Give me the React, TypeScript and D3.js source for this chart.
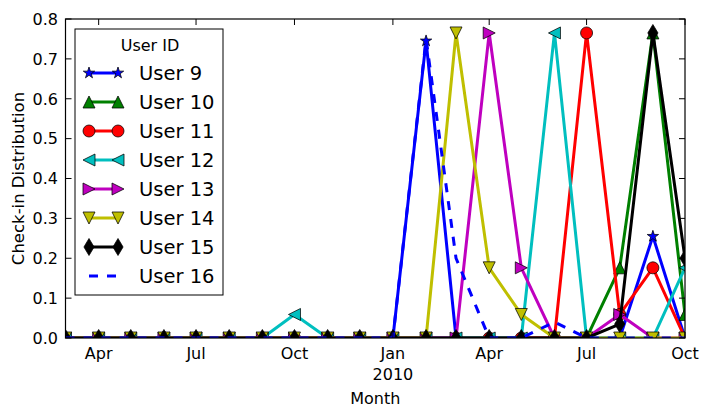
import React from "react";
import * as d3 from "d3";

const months: string[] = [
  "2009-03", "2009-04", "2009-05", "2009-06", "2009-07", "2009-08", "2009-09", "2009-10",
  "2009-11", "2009-12", "2010-01", "2010-02", "2010-03", "2010-04", "2010-05", "2010-06",
  "2010-07", "2010-08", "2010-09", "2010-10",
];

const user9: number[] = [0, 0, 0, 0, 0, 0, 0, 0, 0, 0, 0, 0.745, 0, 0, 0, 0, 0, 0, 0.255, 0];
const user10: number[] = [0, 0, 0, 0, 0, 0, 0, 0, 0, 0, 0, 0, 0, 0, 0, 0, 0, 0.176, 0.765, 0.059];
const user11: number[] = [0, 0, 0, 0, 0, 0, 0, 0, 0, 0, 0, 0, 0, 0, 0, 0, 0.765, 0.059, 0.176, 0];
const user12: number[] = [0, 0, 0, 0, 0, 0, 0, 0.059, 0, 0, 0, 0, 0, 0, 0, 0.765, 0, 0, 0, 0.176];
const user13: number[] = [0, 0, 0, 0, 0, 0, 0, 0, 0, 0, 0, 0, 0, 0.765, 0.176, 0, 0, 0.059, 0, 0];
const user14: number[] = [0, 0, 0, 0, 0, 0, 0, 0, 0, 0, 0, 0, 0.765, 0.176, 0.059, 0, 0, 0, 0, 0];
const user15: number[] = [0, 0, 0, 0, 0, 0, 0, 0, 0, 0, 0, 0, 0, 0, 0, 0, 0, 0.035, 0.765, 0.2];
const user16: number[] = [0, 0, 0, 0, 0, 0, 0, 0, 0, 0, 0, 0.75, 0.2, 0, 0, 0.04, 0, 0, 0, 0];

const seriesNames: string[] = ["User 9", "User 10", "User 11", "User 12", "User 13", "User 14", "User 15", "User 16"];
const seriesValues: number[][] = [user9, user10, user11, user12, user13, user14, user15, user16];
const seriesColors: string[] = ["#0000ff", "#008000", "#ff0000", "#00bfbf", "#bf00bf", "#bfbf00", "#000000", "#0000ff"];
const seriesMarkers: string[] = ["star", "tri-up", "circle", "tri-left", "tri-right", "tri-down", "thin-diamond", "none"];
const seriesDashed: boolean[] = [false, false, false, false, false, false, false, true];

const yTicks: number[] = [0, 0.1, 0.2, 0.3, 0.4, 0.5, 0.6, 0.7, 0.8];
const xTickMonths: string[] = ["2009-04", "2009-07", "2009-10", "2010-01", "2010-04", "2010-07", "2010-10"];
const xTickLabels: string[] = ["Apr", "Jul", "Oct", "Jan", "Apr", "Jul", "Oct"];
const xTickSub: string[] = ["", "", "", "2010", "", "", ""];

const legendTitle = "User ID";
const xTitle = "Month";
const yTitle = "Check-in Distribution";

const W = 708;
const H = 418;
const left = 65.5;
const right = 685;
const top = 19;
const bottom = 338;
const FONT = "DejaVu Sans, sans-serif";

const parse = d3.timeParse("%Y-%m");

function markerPath(kind: string, s: number): string {
  const h = s / 2;
  switch (kind) {
    case "tri-up":
      return `M0,${-h}L${-h},${h}L${h},${h}Z`;
    case "tri-down":
      return `M0,${h}L${-h},${-h}L${h},${-h}Z`;
    case "tri-left":
      return `M${-h},0L${h},${-h}L${h},${h}Z`;
    case "tri-right":
      return `M${h},0L${-h},${-h}L${-h},${h}Z`;
    case "thin-diamond": {
      const hh = (s * Math.SQRT2) / 2;
      const hw = hh * 0.6;
      return `M0,${-hh}L${hw},0L0,${hh}L${-hw},0Z`;
    }
    case "star": {
      const ro = h;
      const ri = h * 0.381966;
      const pts: string[] = [];
      for (let i = 0; i < 10; i++) {
        const r = i % 2 === 0 ? ro : ri;
        const a = (i * Math.PI) / 5 - Math.PI / 2;
        pts.push(`${r * Math.cos(a)},${r * Math.sin(a)}`);
      }
      return "M" + pts.join("L") + "Z";
    }
    default:
      return "";
  }
}

function Marker({ kind, x, y, color }: { kind: string; x: number; y: number; color: string }) {
  if (kind === "none") return null;
  if (kind === "circle") {
    return <circle cx={x} cy={y} r={6} fill={color} stroke="#000" strokeWidth={0.75} />;
  }
  return (
    <path
      d={markerPath(kind, 12)}
      transform={`translate(${x},${y})`}
      fill={color}
      stroke="#000"
      strokeWidth={0.75}
      strokeLinejoin="miter"
    />
  );
}

export default function App() {
  const dates = months.map((m) => parse(m) as Date);
  const x = d3.scaleTime().domain([dates[0], dates[dates.length - 1]]).range([left, right]);
  const y = d3.scaleLinear().domain([0, 0.8]).range([bottom, top]);

  const line = d3
    .line<number>()
    .x((_, i) => x(dates[i]))
    .y((v) => y(v));

  const tickLen = 6;
  const legendX = 75;
  const legendY = 29;
  const legendW = 148;
  const legendH = 266;
  const entryY0 = 73;
  const entryStep = 29;
  const sx0 = 89;
  const sx1 = 118;

  return (
    <svg
      width={W}
      height={H}
      viewBox={`0 0 ${W} ${H}`}
      style={{ position: "absolute", left: 0, top: 0, background: "#fff" }}
    >
      <defs>
        <clipPath id="plotClip">
          <rect x={left} y={top} width={right - left} height={bottom - top} />
        </clipPath>
      </defs>
      <rect x={0} y={0} width={W} height={H} fill="#fff" />

      <g clipPath="url(#plotClip)">
        {seriesValues.map((vals, si) => (
          <g key={seriesNames[si]}>
            <path
              d={line(vals) || ""}
              fill="none"
              stroke={seriesColors[si]}
              strokeWidth={3}
              strokeLinejoin="round"
              strokeDasharray={seriesDashed[si] ? "9,9" : undefined}
            />
            {vals.map((v, i) => (
              <Marker key={i} kind={seriesMarkers[si]} x={x(dates[i])} y={y(v)} color={seriesColors[si]} />
            ))}
          </g>
        ))}
      </g>

      {/* frame */}
      <rect x={left} y={top} width={right - left} height={bottom - top} fill="none" stroke="#000" strokeWidth={1.2} />

      {/* y ticks */}
      {yTicks.map((t) => (
        <g key={"y" + t}>
          <line x1={left} x2={left + tickLen} y1={y(t)} y2={y(t)} stroke="#000" strokeWidth={1} />
          <line x1={right} x2={right - tickLen} y1={y(t)} y2={y(t)} stroke="#000" strokeWidth={1} />
          <text x={58} y={y(t) + 5.8} textAnchor="end" fontFamily={FONT} fontSize={16} fill="#000">
            {t.toFixed(1)}
          </text>
        </g>
      ))}

      {/* x ticks */}
      {xTickMonths.map((m, i) => {
        const xx = x(parse(m) as Date);
        return (
          <g key={"x" + i}>
            <line x1={xx} x2={xx} y1={bottom} y2={bottom - tickLen} stroke="#000" strokeWidth={1} />
            <line x1={xx} x2={xx} y1={top} y2={top + tickLen} stroke="#000" strokeWidth={1} />
            <text x={xx} y={359} textAnchor="middle" fontFamily={FONT} fontSize={16} fill="#000">
              {xTickLabels[i]}
            </text>
            {xTickSub[i] && (
              <text x={xx} y={380} textAnchor="middle" fontFamily={FONT} fontSize={16} fill="#000">
                {xTickSub[i]}
              </text>
            )}
          </g>
        );
      })}

      <text x={(left + right) / 2} y={404} textAnchor="middle" fontFamily={FONT} fontSize={16} fill="#000">
        {xTitle}
      </text>
      <text
        transform={`translate(24,${(top + bottom) / 2}) rotate(-90)`}
        textAnchor="middle"
        fontFamily={FONT}
        fontSize={16.5}
        fill="#000"
      >
        {yTitle}
      </text>

      {/* legend */}
      <rect x={legendX} y={legendY} width={legendW} height={legendH} fill="#fff" stroke="#000" strokeWidth={1} />
      <text x={150} y={51} textAnchor="middle" fontFamily={FONT} fontSize={16} fill="#000">
        {legendTitle}
      </text>
      {seriesNames.map((name, si) => {
        const ly = entryY0 + si * entryStep;
        return (
          <g key={"lg" + name}>
            <line
              x1={sx0}
              x2={sx1}
              y1={ly}
              y2={ly}
              stroke={seriesColors[si]}
              strokeWidth={3}
              strokeDasharray={seriesDashed[si] ? "9,9" : undefined}
            />
            <Marker kind={seriesMarkers[si]} x={sx0} y={ly} color={seriesColors[si]} />
            <Marker kind={seriesMarkers[si]} x={sx1} y={ly} color={seriesColors[si]} />
            <text x={139} y={ly + 7} fontFamily={FONT} fontSize={19.5} fill="#000">
              {name}
            </text>
          </g>
        );
      })}
    </svg>
  );
}
